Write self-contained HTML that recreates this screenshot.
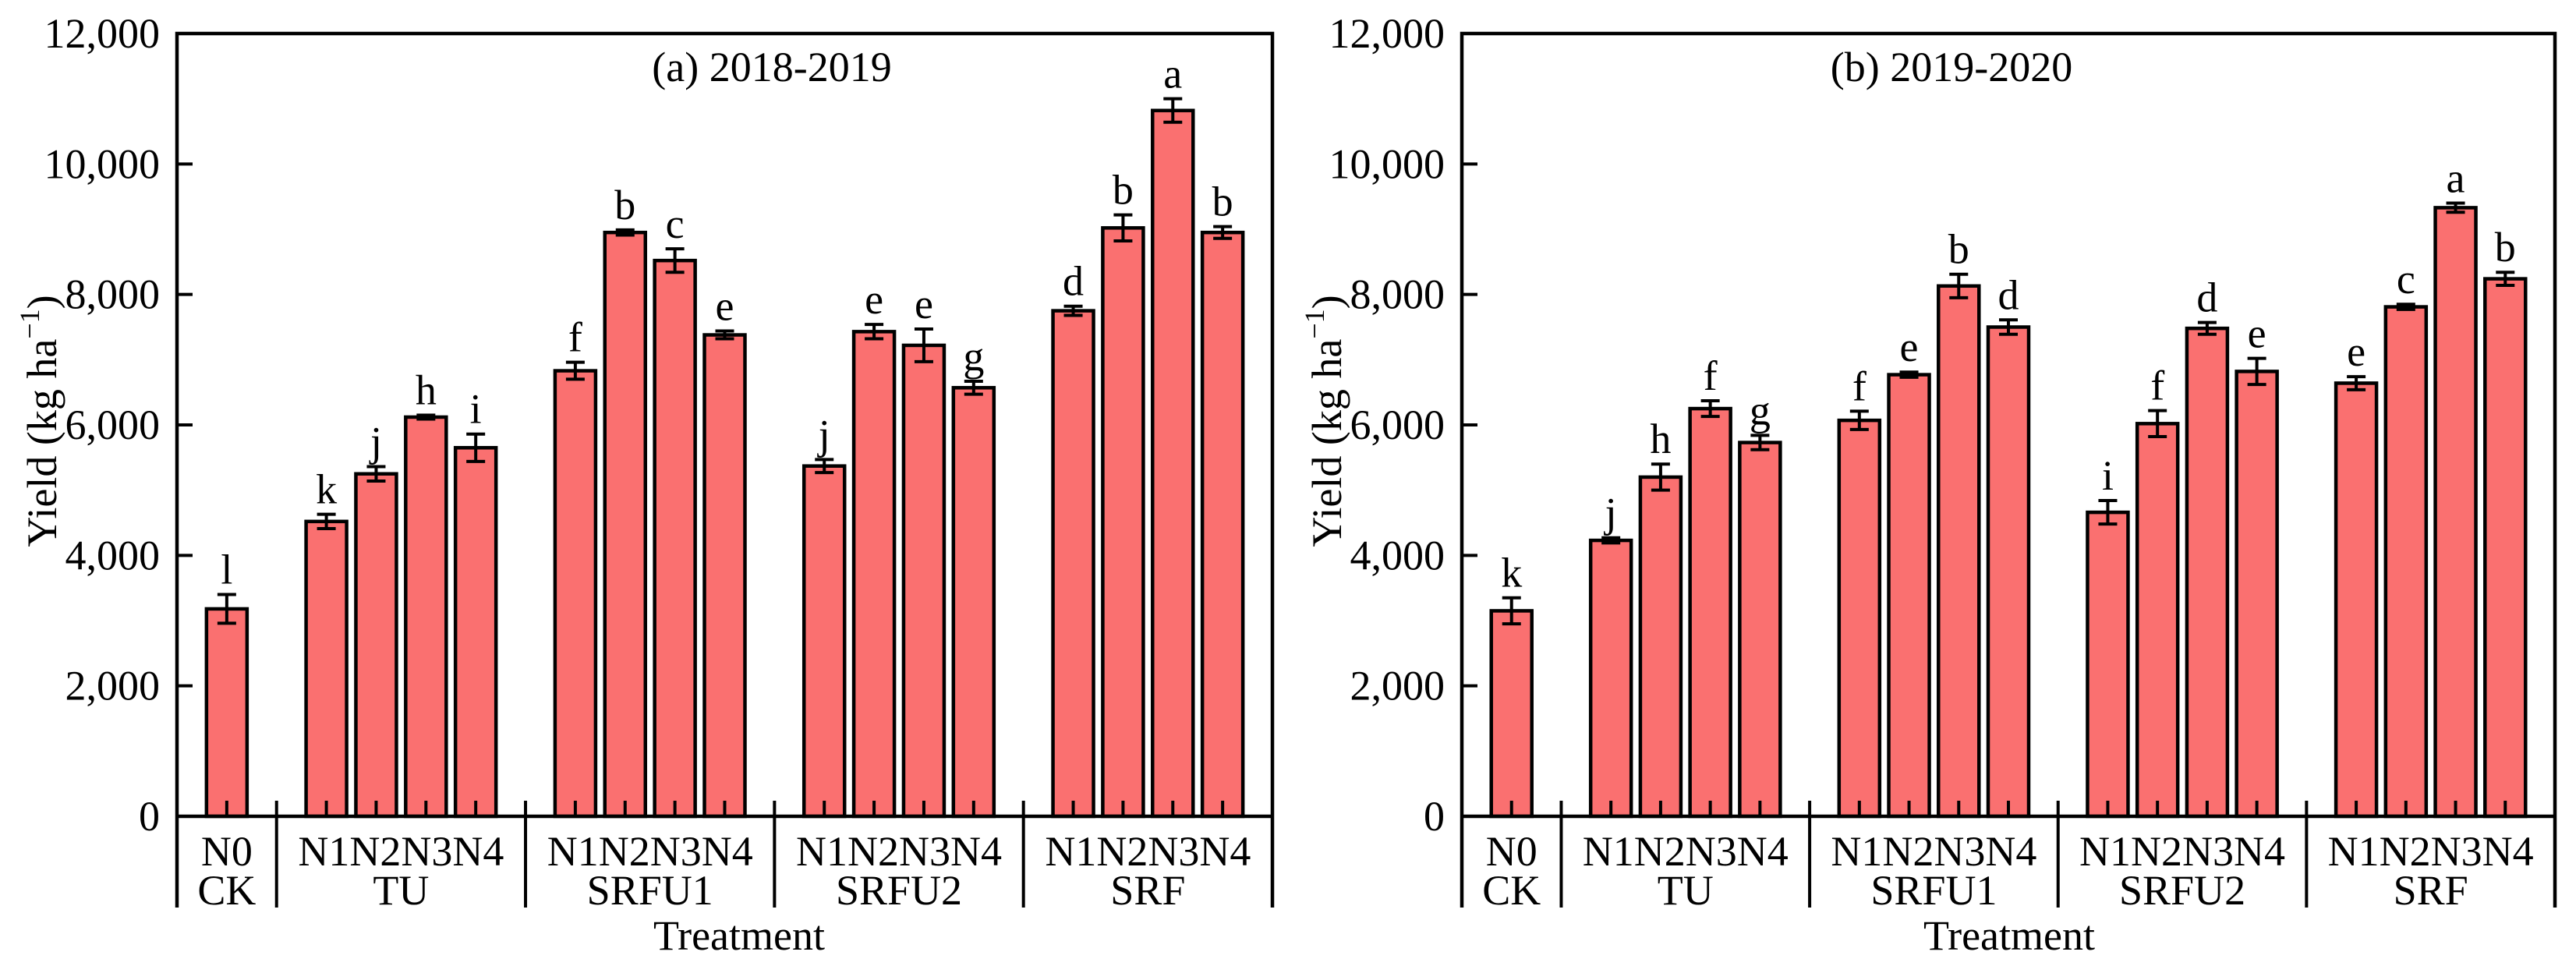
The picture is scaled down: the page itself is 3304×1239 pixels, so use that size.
<!DOCTYPE html>
<html><head><meta charset="utf-8"><style>
html,body{margin:0;padding:0;background:#fff;}
svg, svg text, svg tspan{font-family:"Liberation Serif","DejaVu Serif",serif !important;}
</style></head><body>
<svg id="chart" width="3304" height="1234" viewBox="0 0 3304 1234" xmlns="http://www.w3.org/2000/svg" font-family="Liberation Serif, serif"></svg>
<script>
const groups = ["CK","TU","SRFU1","SRFU2","SRF"];
const levels = ["N0","N1N2N3N4","N1N2N3N4","N1N2N3N4","N1N2N3N4"];
const yTicks = [0,2000,4000,6000,8000,10000,12000];
const yTickLabels = ["0","2,000","4,000","6,000","8,000","10,000","12,000"];
const valuesA = [3180, 4520,5250,6120,5650, 6830,8950,8520,7380, 5370,7430,7220,6570, 7750,9020,10820,8950];
const errorsA = [220, 110,110,30,210, 130,40,180,60, 100,110,250,100, 70,200,180,90];
const lettersA = ["l","k","j","h","i","f","b","c","e","j","e","e","g","d","b","a","b"];
const valuesB = [3150, 4230,5200,6250,5730, 6070,6770,8130,7500, 4660,6020,7480,6820, 6640,7810,9330,8240];
const errorsB = [200, 40,200,120,110, 140,40,180,110, 180,200,90,200, 100,40,70,100];
const lettersB = ["k","j","h","f","g","f","e","b","d","i","f","d","e","e","c","a","b"];

const NS="http://www.w3.org/2000/svg";
const svg=document.getElementById('chart');
const FF='Liberation Serif, serif';
function mk(tag,attrs,parent){const e=document.createElementNS(NS,tag);for(const k in attrs)e.setAttribute(k,attrs[k]);(parent||svg).appendChild(e);return e;}
function txt(s,attrs,parent){attrs['font-family']=FF;const e=mk('text',attrs,parent);e.textContent=s;return e;}

const slotPos=[1,3,4,5,6,8,9,10,11,13,14,15,16,18,19,20,21];
const sepPos=[2,7,12,17];

function panel(cfg){
  const g=mk('g',{});
  
  
  const x0=cfg.x0,x1=cfg.x1,yTop=43,yBot=1047;
  const slot=(x1-x0)/22;
  const xs=p=>x0+p*slot;
  const ys=v=>yBot-v*(yBot-yTop)/12000;
  const bw=52;
  cfg.values.forEach((v,i)=>{
    const cx=xs(slotPos[i]);
    const r=mk('rect',{x:cx-bw/2,y:ys(v),width:bw,height:yBot-ys(v),fill:'#FA7070',stroke:'#000','stroke-width':4.5},g);
    
    
    const e=cfg.errors[i];
    const eb=mk('path',{d:`M${cx} ${ys(v+e)}V${ys(v-e)}M${cx-12} ${ys(v+e)}H${cx+12}M${cx-12} ${ys(v-e)}H${cx+12}`,stroke:'#000','stroke-width':4,fill:'none'},g);
    
    
    const t=txt(cfg.letters[i],{x:cx,y:ys(v+e)-14,'font-size':54,'text-anchor':'middle'},g);
    
    
    mk('line',{x1:cx,x2:cx,y1:yBot,y2:yBot-20,stroke:'#000','stroke-width':4},g);
  });
  sepPos.forEach(p=>{
    const s=mk('line',{x1:xs(p),x2:xs(p),y1:yBot-20,y2:1164,stroke:'#000','stroke-width':4},g);
    
    
  });
  const fr=mk('path',{d:`M${x0} 1164V${yTop}H${x1}V1164M${x0} ${yBot}H${x1}`,stroke:'#000','stroke-width':4.5,fill:'none'},g);
  
  
  yTicks.forEach((v,i)=>{
    mk('line',{x1:x0,x2:x0+20,y1:ys(v),y2:ys(v),stroke:'#000','stroke-width':4},g);
    const t=txt(yTickLabels[i],{x:x0-22,y:ys(v)+18,'font-size':54,'text-anchor':'end'},g);
    
    
  });
  const centers=[1,4.5,9.5,14.5,19.5];
  groups.forEach((gname,i)=>{
    const a=txt(levels[i],{x:xs(centers[i]),y:1110,'font-size':54,'text-anchor':'middle'},g);
    
    
    const b=txt(gname,{x:xs(centers[i]),y:1160,'font-size':54,'text-anchor':'middle'},g);
    
    
  });
  const tt=txt('Treatment',{x:cfg.titleX,y:1218,'font-size':54,'text-anchor':'middle'},g);
  
  
  const yt=mk('text',{transform:`translate(${cfg.yTitleX},540) rotate(-90)`,'font-size':54,'text-anchor':'middle','font-family':FF},g);
  
  
  yt.innerHTML='Yield (kg ha<tspan dy="-22" font-size="36">−1</tspan><tspan dy="22">)</tspan>';
  const pt=txt(cfg.title,{x:cfg.titleCX,y:104,'font-size':54,'text-anchor':'middle'},g);
  
  
}
panel({name:'panel-a-2018-2019',x0:227,x1:1632,values:valuesA,errors:errorsA,letters:lettersA,title:'(a) 2018-2019',titleCX:990,titleX:948,yTitleX:72});
panel({name:'panel-b-2019-2020',x0:1875,x1:3277,values:valuesB,errors:errorsB,letters:lettersB,title:'(b) 2019-2020',titleCX:2503,titleX:2577,yTitleX:1720});
</script>
</body></html>
